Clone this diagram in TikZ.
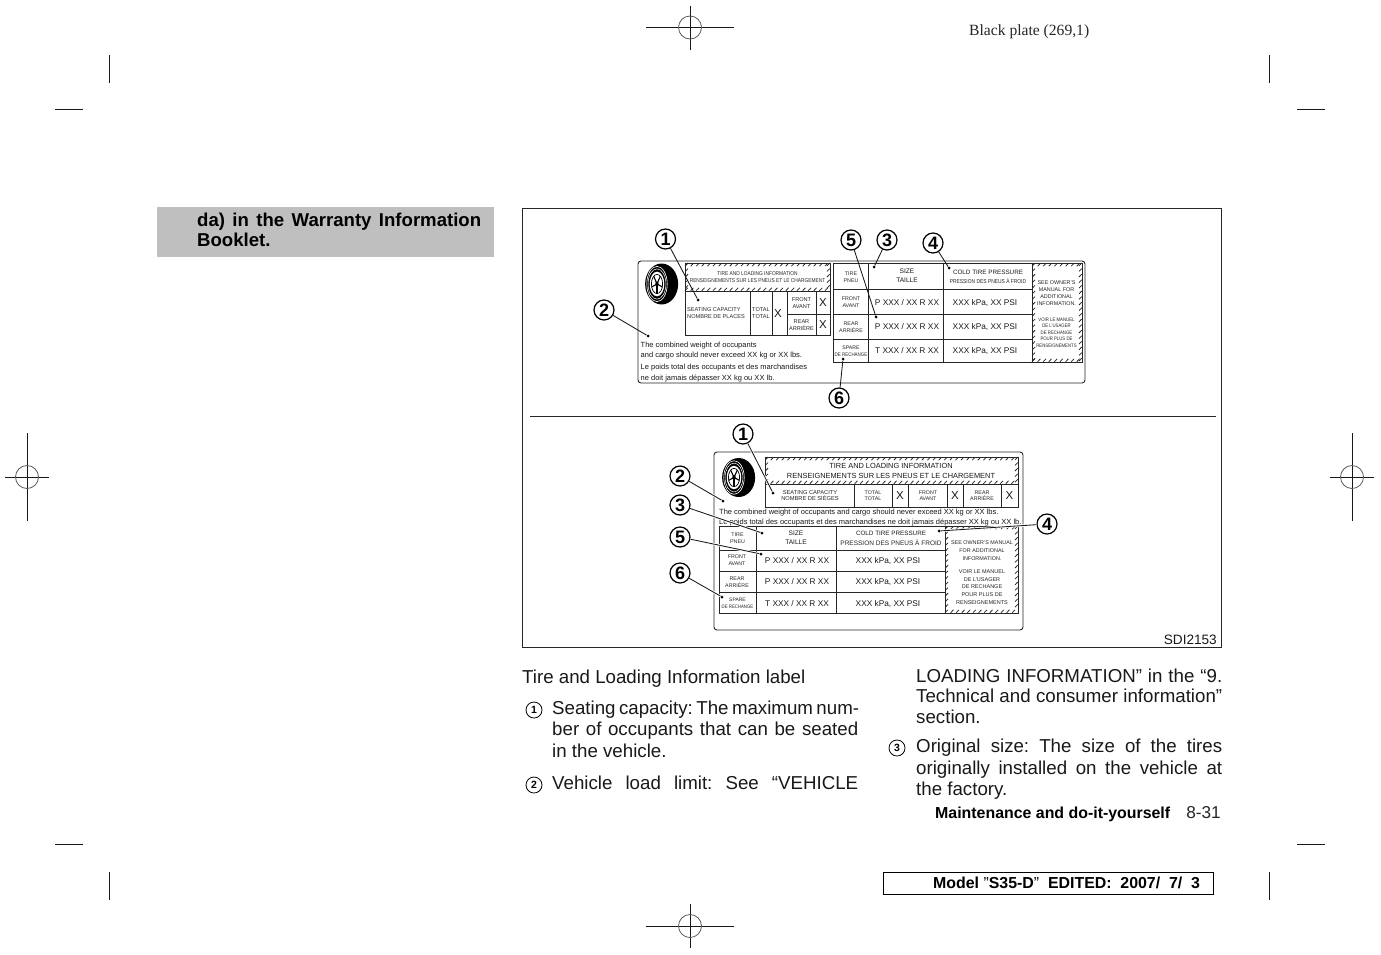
\documentclass[tikz,border=0pt]{standalone}
\usepackage{fontspec}
\usepackage{xcolor}
\setmainfont{Liberation Sans}
\newfontfamily\platefont{Liberation Serif}
\usetikzlibrary{calc}
\frenchspacing
\newcommand{\fs}[1]{\fontsize{#1}{#1}\selectfont}
\newcommand{\cn}[1]{\scalebox{0.86}[1]{#1}}
% band of slanted ticks round a box
\newcommand{\hatchbox}[4]{%
  \pgfmathsetmacro{\xb}{#1+5.6}
  \pgfmathsetmacro{\yb}{#2+5.6}
  \pgfmathsetmacro{\xe}{#3-3}
  \pgfmathsetmacro{\ye}{#4-3}
  \foreach \x in {#1,\xb,...,\xe} {
    \draw[hatch] (\x,#2+3.2) -- (\x+2.8,#2+0.3);
    \draw[hatch] (\x,#4-0.3) -- (\x+2.8,#4-3.2);
  }
  \foreach \y in {#2,\yb,...,\ye} {
    \draw[hatch] (#1+0.3,\y+2.8) -- (#1+3,\y);
    \draw[hatch] (#3-3,\y+2.8) -- (#3-0.3,\y);
  }
}
% wheel seen a little from the side: face centre, half width, half height
\newcommand{\tire}[4]{%
  \fill[black] (#1+#3*0.28,#2) ellipse (#3 and #4);
  \draw[white, line width=0.6pt] (#1,#2) ellipse ({#3*0.62} and {#4*0.86});
  \draw[white, line width=0.5pt] (#1,#2) ellipse ({#3*0.54} and {#4*0.74});
  \fill[white] (#1,#2) ellipse ({#3*0.44} and {#4*0.6});
  \draw[line width=0.7pt] (#1,#2) ellipse ({#3*0.34} and {#4*0.47});
  \fill (#1,#2) ellipse ({#3*0.1} and {#4*0.13});
  \foreach \a in {18,90,...,306} {
    \draw[line width=1.1pt] (#1,#2) -- ++(\a:{#3*0.34} and {#4*0.47});
  }
}
\begin{document}
\begin{tikzpicture}[x=1pt, y=-1pt,
    frm/.style={draw=black!85, line width=0.9pt},
    cell/.style={draw=black!85, line width=1pt},
    hatch/.style={line width=0.75pt, black!85},
    cropline/.style={line width=0.9pt, black!90},
    num/.style={circle, draw=black, line width=1.2pt, fill=white, minimum size=20pt, inner sep=0pt, font=\fs{18}\bfseries},
    lead/.style={line width=0.85pt, black!90},
    spot/.style={circle, fill=black, minimum size=3pt, inner sep=0pt},
    tiny/.style={font=\fs{5.3}, align=center, black!85},
    capt/.style={font=\fs{6.3}, align=center, black!90},
    val/.style={font=\fs{8.3}, black!90},
    bigx/.style={font=\fs{11.5}, black!90},
    note/.style={font=\fs{7.5}, anchor=base west, black!90},
    body/.style={font=\fs{18.7}, anchor=base west, inner sep=0pt, black!90},
    bullet/.style={circle, draw=black, line width=0.8pt, minimum size=16pt, inner sep=0pt, font=\fs{10.5}\bfseries}]
  \useasboundingbox (0,0) rectangle (1381,954);
  \fill[white] (0,0) rectangle (1381,954);
  % registration marks
  \foreach \cx/\cy/\hw/\hh in {690/27.5/44/22, 690/926/44/22, 27/477/22/44, 1352/477/22/44} {
    \draw[cropline] (\cx-\hw,\cy) -- (\cx+\hw,\cy);
    \draw[cropline] (\cx,\cy-\hh) -- (\cx,\cy+\hh);
    \draw[black!65, line width=0.8pt] (\cx,\cy) circle (11.5);
  }
  % corner marks
  \foreach \vx/\hx/\hy/\vy in {109/55/109/55, 1269/1297/109/55, 109/55/844/872, 1269/1297/844/872} {
    \draw[cropline] (\vx,\vy) -- (\vx,\vy+28);
    \draw[cropline] (\hx,\hy) -- (\hx+28,\hy);
  }
  \node[font=\fs{15.6}\platefont, anchor=base west, inner sep=0pt, black!85] (plate) at (969,35) {Black plate (269,1)};
  % side note
  \fill[black!25] (157,207) rectangle (494,257);
  \node[font=\fs{18.6}\bfseries, anchor=base west, inner sep=0pt] (warr) at (197,226) {\makebox[284pt][s]{da) in the Warranty Information}};
  \node[font=\fs{18.6}\bfseries, anchor=base west, inner sep=0pt] (book) at (197,246) {Booklet.};
  % figure frame
  \draw[frm] (522,208) rectangle (1221.5,647.5);
  \draw[frm] (530,416) -- (1216,416);
  \node[font=\fs{13.6}, anchor=base east, inner sep=0pt, black!90] (sdi) at (1217,644) {SDI2153};

  % upper label
  \draw[frm, rounded corners=3pt] (638,261) rectangle (1085,383);
  \tire{657}{284}{16.5}{20.5}
  \draw[cell] (685,263) rectangle (830,335);
  \draw[cell] (685,291) -- (830,291);
  \foreach \x in {750,772,787,816} {
    \draw[cell] (\x,291) -- (\x,335);
  }
  \draw[cell] (787,314) -- (830,314);
  \hatchbox{685}{263}{830}{291}
  \node[tiny, font=\fs{5.6}] (up1) at (757.5,277) {\cn{TIRE AND LOADING INFORMATION}\\[2pt]\cn{RENSEIGNEMENTS SUR LES PNEUS ET LE CHARGEMENT}};
  \node[tiny, align=left, anchor=west, inner sep=0pt, font=\fs{5.6}] (up2) at (687,313) {SEATING CAPACITY\\[1pt]NOMBRE DE PLACES};
  \node[tiny, font=\fs{5.6}] (up3) at (761,313) {TOTAL\\[1pt]TOTAL};
  \node[bigx] (up4) at (778,314) {X};
  \node[tiny, font=\fs{5.6}] (up5) at (801.5,303) {FRONT\\[1pt]AVANT};
  \node[tiny, font=\fs{5.6}] (up6) at (801.5,325) {REAR\\[1pt]ARRIÈRE};
  \node[bigx] (up7) at (823,303) {X};
  \node[bigx] (up8) at (823,325) {X};
  \foreach \n/\y/\t in {a/347/The combined weight of occupants,
      b/357/and cargo should never exceed XX kg or XX lbs.,
      c/369/Le poids total des occupants et des marchandises,
      d/380/ne doit jamais dépasser XX kg ou XX lb.} {
    \node[note, inner sep=0pt] (upnote\n) at (640.5,\y) {\t};
  }
  \draw[cell] (833,263) rectangle (1082,362);
  \foreach \x in {868,943,1032} {
    \draw[cell] (\x,263) -- (\x,362);
  }
  \foreach \y in {289,314,339} {
    \draw[cell] (833,\y) -- (1032,\y);
  }
  \hatchbox{1032}{263}{1082}{362}
  \node[tiny] (uph1) at (851,277) {TIRE\\[1.5pt]PNEU};
  \node[tiny] (uph2) at (851,302) {FRONT\\[1.5pt]AVANT};
  \node[tiny] (uph3) at (851,327) {REAR\\[1.5pt]ARRIÈRE};
  \node[tiny, font=\fs{5.2}] (uph4) at (851,351) {SPARE\\[2pt]\cn{DE RECHANGE}};
  \node[capt, font=\fs{6.6}] (uph5) at (907,276) {SIZE\\[2.5pt]TAILLE};
  \node[capt] (uph6) at (988,272) {COLD TIRE PRESSURE};
  \node[tiny, font=\fs{5.7}] (uph7) at (988,281) {\cn{PRESSION DES PNEUS À FROID}};
  \foreach \n/\y/\t/\u in {1/303/P/XXX kPa{,} XX PSI, 2/327/P/XXX kPa{,} XX PSI, 3/351/T/XXX kPa{,} XX PSI} {
    \node[val] (upsize\n) at (907,\y) {\t\ XXX / XX R XX};
    \node[val] (uppres\n) at (985,\y) {\u};
  }
  \node[tiny, font=\fs{5.4}] (upsee) at (1056.5,293) {SEE OWNER'S\\[1.5pt]MANUAL FOR\\[1.5pt]ADDITIONAL\\[1.5pt]INFORMATION.};
  \node[tiny, font=\fs{5}] (upvoir) at (1056.5,332.5) {\cn{VOIR LE MANUEL}\\[1.5pt]\cn{DE L'USAGER}\\[1.5pt]\cn{DE RECHANGE}\\[1.5pt]\cn{POUR PLUS DE}\\[1.5pt]\cn{RENSEIGNEMENTS}};
  % upper callouts
  \foreach \n/\t/\x/\y/\dx/\dy in {u1/1/665.5/239/698/300, u2/2/604/310/648/336, u5/5/851/240/876/317,
      u3/3/887/240/874/267, u4/4/933/243/949/268, u6/6/839/398/843/359} {
    \node[spot] (d\n) at (\dx,\dy) {};
    \node[num] (c\n) at (\x,\y) {\t};
    \draw[lead] (c\n) -- (d\n);
  }

  % lower label
  \draw[frm, rounded corners=3pt] (714,452) rectangle (1023,630);
  \tire{734}{477.5}{16.5}{19.5}
  \draw[cell] (765,457) rectangle (1018,507);
  \draw[cell] (765,484) -- (1018,484);
  \foreach \x in {854,892,908,947,963,1001} {
    \draw[cell] (\x,484) -- (\x,507);
  }
  \hatchbox{765}{457}{1018}{484}
  \node[capt, font=\fs{7.4}] (lo1) at (891,471) {TIRE AND LOADING INFORMATION\\[2pt]RENSEIGNEMENTS SUR LES PNEUS ET LE CHARGEMENT};
  \node[tiny, font=\fs{5.7}] (lo2) at (810,495.5) {SEATING CAPACITY\\[1pt]NOMBRE DE SIÈGES};
  \node[tiny] (lo3) at (873,495.5) {TOTAL\\[1pt]TOTAL};
  \node[bigx] (lo4) at (900,496) {X};
  \node[tiny] (lo5) at (928,495.5) {FRONT\\[1pt]AVANT};
  \node[bigx] (lo6) at (955,496) {X};
  \node[tiny] (lo7) at (982,495.5) {REAR\\[1pt]ARRIÈRE};
  \node[bigx] (lo8) at (1009.5,496) {X};
  \node[note, inner sep=0pt] (lonotea) at (719,514) {The combined weight of occupants and cargo should never exceed XX kg or XX lbs.};
  \node[note, inner sep=0pt] (lonoteb) at (719,524) {Le poids total des occupants et des marchandises ne doit jamais dépasser XX kg ou XX lb.};
  \draw[cell] (719,526) rectangle (1018,613);
  \foreach \x in {756,836,945} {
    \draw[cell] (\x,526) -- (\x,613);
  }
  \foreach \y in {550,571,592} {
    \draw[cell] (719,\y) -- (945,\y);
  }
  \hatchbox{945}{526}{1018}{613}
  \node[tiny] (loh1) at (737.5,538) {TIRE\\[1.5pt]PNEU};
  \node[tiny] (loh2) at (737,560.5) {FRONT\\[1.5pt]AVANT};
  \node[tiny] (loh3) at (737,582) {REAR\\[1.5pt]ARRIÈRE};
  \node[tiny, font=\fs{5}] (loh4) at (737.5,603) {SPARE\\[2pt]\cn{DE RECHANGE}};
  \node[capt, font=\fs{6.6}] (loh5) at (796,538) {SIZE\\[2.5pt]TAILLE};
  \node[capt] (loh6) at (891,533) {COLD TIRE PRESSURE};
  \node[tiny, font=\fs{6.5}] (loh7) at (891,543) {PRESSION DES PNEUS À FROID};
  \foreach \n/\y/\t/\u in {1/561/P/XXX kPa{,} XX PSI, 2/582/P/XXX kPa{,} XX PSI, 3/604/T/XXX kPa{,} XX PSI} {
    \node[val] (losize\n) at (797,\y) {\t\ XXX / XX R XX};
    \node[val] (lopres\n) at (888,\y) {\u};
  }
  \node[tiny, font=\fs{5.4}] (losee) at (982,551) {SEE OWNER'S MANUAL\\[2.5pt]FOR ADDITIONAL\\[2.5pt]INFORMATION.};
  \node[tiny, font=\fs{5.5}] (lovoir) at (982,587) {VOIR LE MANUEL\\[2.2pt]DE L'USAGER\\[2.2pt]DE RECHANGE\\[2.2pt]POUR PLUS DE\\[2.2pt]RENSEIGNEMENTS};
  % lower callouts
  \foreach \n/\t/\x/\y/\dx/\dy in {l1/1/743/434/773/493, l2/2/680/476/723/501, l3/3/680/505/762/533,
      l5/5/680/537/761/554, l6/6/680/573/722/597, l4/4/1047/524/939/531} {
    \node[spot] (d\n) at (\dx,\dy) {};
    \node[num] (c\n) at (\x,\y) {\t};
    \draw[lead, preaction={draw=white, line width=2.4pt}] (c\n) -- (d\n);
  }

  % running text
  \node[body] (ttl) at (522,683) {Tire and Loading Information label};
  \node[bullet] (b1) at (534,710) {1};
  \node[bullet] (b2) at (534,785) {2};
  \node[bullet] (b3) at (897,748) {3};
  \foreach \n/\x/\y/\t in {a/552/714/Seating capacity: The maximum num-,
      b/552/735/ber of occupants that can be seated,
      d/552/789/Vehicle load limit: See “VEHICLE,
      e/916/682/LOADING INFORMATION” in the “9.,
      f/916/702/Technical and consumer information”,
      h/916/752/Original size: The size of the tires,
      i/916/774/originally installed on the vehicle at} {
    \node[body] (line\n) at (\x,\y) {\makebox[306pt][s]{\t}};
  }
  \node[body] (linec) at (552,757) {in the vehicle.};
  \node[body] (lineg) at (916,723) {section.};
  \node[body] (linej) at (916,795) {the factory.};

  % footer
  \node[font=\fs{15.9}\bfseries, anchor=base west, inner sep=0pt] (sect) at (935,818) {Maintenance and do-it-yourself};
  \node[font=\fs{17.2}, anchor=base east, inner sep=0pt, black!85] (page) at (1221,818) {8-31};
  \draw[black, line width=1pt] (883,872) rectangle (1213.5,894);
  \node[font=\fs{15.9}\bfseries, anchor=base west, inner sep=0pt] (model) at (933,888) {Model {\mdseries "}S35-D{\mdseries "}\ \ EDITED:\ \ 2007/\ \ 7/\ \ 3};
\end{tikzpicture}
\end{document}
